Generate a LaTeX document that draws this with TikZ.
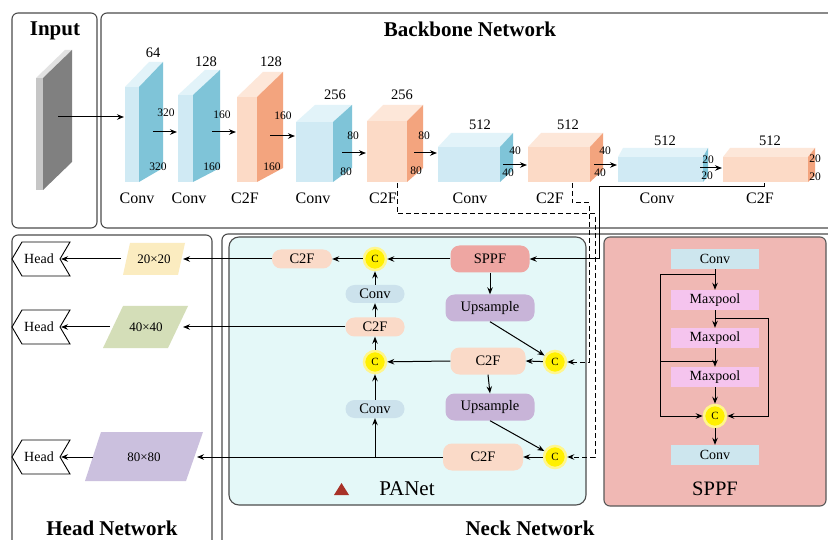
\documentclass[tikz,border=0pt]{standalone}
\usepackage{fontspec}
\setmainfont{Liberation Serif}
\usetikzlibrary{arrows.meta,calc}
\definecolor{blueF}{RGB}{208,234,244}
\definecolor{blueS}{RGB}{127,196,216}
\definecolor{blueT}{RGB}{226,243,249}
\definecolor{orgF}{RGB}{252,218,198}
\definecolor{orgS}{RGB}{243,164,126}
\definecolor{orgT}{RGB}{253,231,217}
\definecolor{grayF}{RGB}{198,198,198}
\definecolor{grayS}{RGB}{128,128,128}
\definecolor{grayT}{RGB}{226,226,226}
\definecolor{panbg}{RGB}{228,248,248}
\definecolor{sppfbg}{RGB}{240,184,180}
\definecolor{csppf}{RGB}{238,166,162}
\definecolor{cup}{RGB}{200,180,216}
\definecolor{cc2f}{RGB}{250,218,200}
\definecolor{cconvn}{RGB}{204,226,236}
\definecolor{cconv}{RGB}{205,230,238}
\definecolor{cmax}{RGB}{245,196,238}
\definecolor{cyel}{RGB}{255,240,0}
\definecolor{cglow}{RGB}{255,246,140}
\definecolor{p20}{RGB}{251,236,192}
\definecolor{p40}{RGB}{212,222,184}
\definecolor{p80}{RGB}{203,192,222}
\definecolor{tri}{RGB}{168,50,40}
\newcommand{\blk}[8]{%
  \fill[#8T] (#1,#3) -- (#2,#3) -- (#5,#6) -- ({#1+#5-#2},#6) -- cycle;
  \fill[#8F] (#1,#3) rectangle (#2,#4);
  \fill[#8S] (#2,#3) -- (#5,#6) -- (#5,#7) -- (#2,#4) -- cycle;
}
\newcommand{\headsh}[2]{%
  \draw[line width=0.9pt, fill=white] (12,#1) -- (22,#1-17) -- (70,#1-17) -- (60,#1) -- (70,#1+17) -- (22,#1+17) -- cycle;
  \node[headtxt] (#2) at (39,#1) {Head};
  \coordinate (#2t) at (61,#1);
}
\begin{document}
\begin{tikzpicture}[x=1pt,y=-1pt,
  arr/.style={-{Stealth[length=7pt,width=5.5pt]}, line width=1pt},
  ln/.style={line width=1pt},
  dsh/.style={dash pattern=on 5pt off 3pt, line width=1pt},
  frame/.style={draw=black!70, line width=1.1pt, rounded corners=6pt},
  ttl/.style={font=\fontsize{21}{21}\selectfont\bfseries, anchor=base, inner sep=0},
  blbl/.style={font=\fontsize{16}{16}\selectfont, anchor=base, inner sep=0},
  tlbl/.style={font=\fontsize{14.5}{14.5}\selectfont, anchor=base, inner sep=0},
  dlbl/.style={font=\fontsize{11.5}{11.5}\selectfont, inner sep=0},
  pill/.style={rounded corners=9pt, inner sep=0, font=\fontsize{14.5}{14.5}\selectfont},
  cnode/.style={circle, fill=cyel, draw=cglow, line width=2.5pt, minimum size=22pt, inner sep=0, font=\fontsize{11}{11}\selectfont},
  sbox/.style={inner sep=0, minimum width=88pt, minimum height=20pt, font=\fontsize{14}{14}\selectfont},
  headtxt/.style={font=\fontsize{14}{14}\selectfont, inner sep=0},
  ptxt/.style={font=\fontsize{13}{13}\selectfont, inner sep=0},
]
\useasboundingbox (0,0) rectangle (828,540);
\fill[white] (0,0) rectangle (828,540);
\clip (0,0) rectangle (828,540);

% ---------- frames ----------
\draw[frame] (12,13) rectangle (97,228);
\draw[frame] (101,13) rectangle (845,228);
\draw[frame] (12,235) rectangle (212,560);
\draw[frame] (222,234) rectangle (845,560);
\draw[draw=black!70, line width=1.1pt, rounded corners=10pt, fill=panbg] (229,237) rectangle (586,505);
\draw[draw=black!65, line width=1.1pt, rounded corners=6pt, fill=sppfbg] (604,237) rectangle (826,506);

% ---------- titles ----------
\node[ttl] (tIn) at (55,36) {Input};
\node[ttl] (tBb) at (470,37) {Backbone Network};
\node[ttl] (tHd) at (112,535) {Head Network};
\node[ttl] (tNk) at (530,535) {Neck Network};

% ---------- backbone blocks ----------
\blk{36}{43}{78}{190}{72}{50}{162}{gray}
\blk{125}{139}{87}{182}{163}{62}{168}{blue}
\blk{178}{193}{95}{182}{220}{70}{168}{blue}
\blk{237}{257}{97}{182}{283}{72}{168}{org}
\blk{296}{333}{122}{182}{352}{105}{168}{blue}
\blk{367}{407}{121}{182}{423}{105}{168}{org}
\blk{438}{500}{147}{182}{513}{133}{170}{blue}
\blk{528}{590}{147}{182}{603}{133}{170}{org}
\blk{618}{703}{157}{182}{708}{148}{176}{blue}
\blk{723}{808}{157}{182}{815}{148}{176}{org}

% block names
\node[blbl] (b1) at (137,204) {Conv};
\node[blbl] (b2) at (189,204) {Conv};
\node[blbl] (b3) at (245,204) {C2F};
\node[blbl] (b4) at (313,204) {Conv};
\node[blbl] (b5) at (383,204) {C2F};
\node[blbl] (b6) at (470,204) {Conv};
\node[blbl] (b7) at (550,204) {C2F};
\node[blbl] (b8) at (657,204) {Conv};
\node[blbl] (b9) at (760,204) {C2F};

% channel labels
\node[tlbl] (ch1) at (153,58) {64};
\node[tlbl] (ch2) at (206,67) {128};
\node[tlbl] (ch3) at (271,67) {128};
\node[tlbl] (ch4) at (335,100) {256};
\node[tlbl] (ch5) at (402,100) {256};
\node[tlbl] (ch6) at (480,130) {512};
\node[tlbl] (ch7) at (568,130) {512};
\node[tlbl] (ch8) at (665,146) {512};
\node[tlbl] (ch9) at (770,146) {512};

% size labels
\node[dlbl] (d1a) at (166,113) {320};
\node[dlbl] (d1b) at (158,167) {320};
\node[dlbl] (d2a) at (222,115) {160};
\node[dlbl] (d2b) at (212,167) {160};
\node[dlbl] (d3a) at (283,116) {160};
\node[dlbl] (d3b) at (272,167) {160};
\node[dlbl] (d4a) at (353,136) {80};
\node[dlbl] (d4b) at (346,172) {80};
\node[dlbl] (d5a) at (424,136) {80};
\node[dlbl] (d5b) at (416,171) {80};
\node[dlbl] (d6a) at (515,151) {40};
\node[dlbl] (d6b) at (508,173) {40};
\node[dlbl] (d7a) at (605,151) {40};
\node[dlbl] (d7b) at (600,173) {40};
\node[dlbl] (d8a) at (708,160) {20};
\node[dlbl] (d8b) at (707,176) {20};
\node[dlbl] (d9a) at (815,159) {20};
\node[dlbl] (d9b) at (815,177) {20};

% backbone arrows
\coordinate (a0s) at (58,117);  \coordinate (a0e) at (124,117);
\coordinate (a1s) at (153,132); \coordinate (a1e) at (177,132);
\coordinate (a2s) at (212,132); \coordinate (a2e) at (236,132);
\coordinate (a3s) at (270,136); \coordinate (a3e) at (295,136);
\coordinate (a4s) at (342,153); \coordinate (a4e) at (366,153);
\coordinate (a5s) at (414,153); \coordinate (a5e) at (437,153);
\coordinate (a6s) at (503,165); \coordinate (a6e) at (527,165);
\coordinate (a7s) at (594,165); \coordinate (a7e) at (617,165);
\coordinate (a8s) at (700,168); \coordinate (a8e) at (722,168);
\foreach \i in {0,...,8} { \draw[arr] (a\i s) -- (a\i e); }

% ---------- head network ----------
\headsh{259}{hd1}
\headsh{327}{hd2}
\headsh{457}{hd3}
\fill[p20] (130,243) -- (185,243) -- (178,275) -- (123,275) -- cycle;
\fill[p40] (123,306) -- (188,306) -- (168,348) -- (103,348) -- cycle;
\fill[p80] (101,432) -- (203,432) -- (186,481) -- (85,481) -- cycle;
\node[ptxt] (pp1) at (154,259) {20×20};
\node[ptxt] (pp2) at (146,327) {40×40};
\node[ptxt] (pp3) at (144,457) {80×80};
\coordinate (pp1w) at (121,259); \coordinate (pp1e) at (183,259);
\coordinate (pp2w) at (110,327); \coordinate (pp2e) at (183,327);
\coordinate (pp3w) at (93,457);  \coordinate (pp3e) at (197,457);
\draw[arr] (pp1w) -- (hd1t);
\draw[arr] (pp2w) -- (hd2t);
\draw[arr] (pp3w) -- (hd3t);

% ---------- PANet ----------
\node[pill, fill=csppf, minimum width=79pt, minimum height=27pt] (sppf) at (490,259) {SPPF};
\node[pill, fill=cup, minimum width=89pt, minimum height=27pt] (up1) at (490,308) {Upsample};
\node[pill, fill=cc2f, minimum width=75pt, minimum height=27pt] (c2fm) at (488,361) {C2F};
\node[pill, fill=cup, minimum width=89pt, minimum height=27pt] (up2) at (490,407) {Upsample};
\node[pill, fill=cc2f, minimum width=80pt, minimum height=27pt] (c2fb) at (483,457) {C2F};
\node[pill, fill=cc2f, minimum width=60pt, minimum height=19pt] (c2ft) at (302,259) {C2F};
\node[pill, fill=cconvn, minimum width=59pt, minimum height=18pt] (cvu) at (375,294) {Conv};
\node[pill, fill=cc2f, minimum width=59pt, minimum height=19pt] (c2fl) at (375,327) {C2F};
\node[pill, fill=cconvn, minimum width=59pt, minimum height=18pt] (cvl) at (375,409) {Conv};
\node[cnode] (cc1) at (375,259) {C};
\node[cnode] (cc2) at (375,362) {C};
\node[cnode] (cc3) at (555,362) {C};
\node[cnode] (cc4) at (555,457) {C};
\fill[tri] (334,495) -- (341.5,483) -- (349,495) -- cycle;
\node[font=\fontsize{21}{21}\selectfont, anchor=base, inner sep=0] (panet) at (407,495) {PANet};

\draw[arr] (sppf.west) -- (cc1);
\draw[arr] (cc1) -- (c2ft.east);
\draw[arr] (c2ft.west) -- (pp1e);
\draw[arr] (sppf.south) -- (up1.north);
\draw[arr] (up1.south) -- (cc3);
\draw[arr] (cc3) -- (c2fm.east);
\draw[arr] (c2fm.south) -- (up2.north);
\draw[arr] (up2.south) -- (cc4);
\draw[arr] (cc4) -- (c2fb.east);
\draw[arr] (c2fm.west) -- (cc2);
\draw[arr] (cc2) -- (c2fl.south);
\draw[arr] (c2fl.north) -- (cvu.south);
\draw[arr] (cvu.north) -- (cc1);
\draw[arr] (c2fl.west) -- (pp2e);
\draw[arr] (c2fb.west) -- (pp3e);
\draw[arr] (cvl.south |- c2fb.west) -- (cvl.south);
\draw[arr] (cvl.north) -- (cc2);

% ---------- backbone to neck ----------
\coordinate (f5) at (397,183);
\coordinate (f7) at (572,183);
\coordinate (f9) at (764,183);
\draw[arr, dsh] (f5) -- (397,214) -- (595,214) |- (cc4.east);
\draw[arr, dsh] (f7) -- (572,203) -- (589,203) |- (cc3.east);
\draw[arr] (f9) -- (764,187) -- (599,187) |- (sppf.east);

% ---------- SPPF module ----------
\node[sbox, fill=cconv] (sc1) at (715,259) {Conv};
\node[sbox, fill=cmax] (mp1) at (715,300) {Maxpool};
\node[sbox, fill=cmax] (mp2) at (715,338) {Maxpool};
\node[sbox, fill=cmax] (mp3) at (715,377) {Maxpool};
\node[cnode] (scc) at (715,416) {C};
\node[sbox, fill=cconv] (sc2) at (715,455) {Conv};
\node[font=\fontsize{20.5}{20.5}\selectfont, anchor=base, inner sep=0] (sppft) at (715,495) {SPPF};
\draw[arr] (sc1) -- (mp1);
\draw[arr] (mp1) -- (mp2);
\draw[arr] (mp2) -- (mp3);
\draw[arr] (mp3) -- (scc);
\draw[arr] (scc) -- (sc2);
\coordinate (lA) at (715,275); \coordinate (lB) at (660,275);
\coordinate (rA) at (715,319); \coordinate (rB) at (768,319);
\coordinate (mA) at (660,361); \coordinate (mB) at (715,361);
\draw[arr] (lA) -- (lB) |- (scc.west);
\draw[arr] (rA) -- (rB) |- (scc.east);
\draw[ln] (mA) -- (mB);
\end{tikzpicture}
\end{document}
